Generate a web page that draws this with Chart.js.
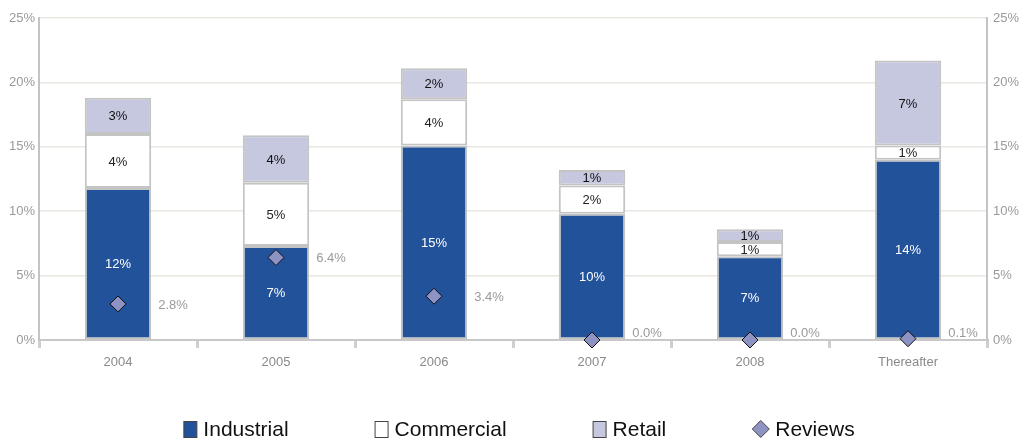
<!DOCTYPE html>
<html>
<head>
<meta charset="utf-8">
<script src="https://cdn.jsdelivr.net/npm/chart.js@4/dist/chart.umd.min.js"></script>
<style>
  html, body { margin: 0; padding: 0; background: #fff; }
  #wrap { width: 1026px; height: 440px; position: relative; }
</style>
</head>
<body>
<div id="wrap"><canvas id="c" width="1026" height="440"></canvas></div>
<script>
const categories = ['2004', '2005', '2006', '2007', '2008', 'Thereafter'];
const industrial = [11.8, 7.3, 15.1, 9.8, 6.5, 14.0];
const commercial = [4.2, 4.9, 3.6, 2.2, 1.1, 1.1];
const retail = [2.8, 3.7, 2.4, 1.2, 1.0, 6.6];
const reviews = [2.8, 6.4, 3.4, 0.0, 0.0, 0.1];
const yTicks = [0, 5, 10, 15, 20, 25];

const FONT = "'Liberation Sans', Arial, sans-serif";
const COL_IND = '#22529a';
const COL_COM = '#ffffff';
const COL_RET = '#c5c8df';
const COL_REV = '#8e93c4';

const segLabelPlugin = {
  id: 'segLabels',
  afterDatasetsDraw(chart) {
    const ctx = chart.ctx;
    ctx.save();
    ctx.font = '13px ' + FONT;
    ctx.textAlign = 'center';
    ctx.textBaseline = 'middle';
    const colors = ['#ffffff', '#222222', '#111111'];
    [0, 1, 2].forEach(di => {
      const meta = chart.getDatasetMeta(di);
      meta.data.forEach((bar, i) => {
        const v = chart.data.datasets[di].data[i];
        const yc = (bar.y + bar.base) / 2;
        ctx.fillStyle = colors[di];
        ctx.fillText(Math.round(v) + '%', bar.x, yc + 1);
      });
    });
    const barMeta = chart.getDatasetMeta(0);
    const revMeta = chart.getDatasetMeta(3);
    ctx.textAlign = 'left';
    ctx.fillStyle = '#9a9a9a';
    revMeta.data.forEach((pt, i) => {
      const bar = barMeta.data[i];
      const x = bar.x + bar.width / 2 + 7;
      const y = Math.min(pt.y, chart.chartArea.bottom - 8);
      ctx.fillText(reviews[i].toFixed(1) + '%', x, y + 1);
    });
    ctx.restore();
  }
};

const legendPlugin = {
  id: 'customLegend',
  afterDraw(chart) {
    const ctx = chart.ctx;
    ctx.save();
    ctx.font = '21px ' + FONT;
    ctx.textBaseline = 'middle';
    const items = chart.data.datasets.map(ds => ({
      text: ds.label,
      fill: ds.type === 'line' ? ds.pointBackgroundColor : ds.backgroundColor,
      diamond: ds.type === 'line'
    }));
    const boxW = 14, gapText = 6, gapItem = 86;
    const widths = items.map(it => (it.diamond ? 17 : boxW) + gapText + ctx.measureText(it.text).width);
    const total = widths.reduce((a, b) => a + b, 0) + gapItem * (items.length - 1);
    let x = 519 - total / 2;
    const cy = 429;
    items.forEach((it, i) => {
      ctx.lineWidth = 1;
      ctx.strokeStyle = '#444';
      ctx.fillStyle = it.fill;
      let bw;
      if (it.diamond) {
        bw = 17;
        const cx = x + 8.5;
        ctx.beginPath();
        ctx.moveTo(cx, cy - 8.5);
        ctx.lineTo(cx + 8.5, cy);
        ctx.lineTo(cx, cy + 8.5);
        ctx.lineTo(cx - 8.5, cy);
        ctx.closePath();
        ctx.fill();
        ctx.stroke();
      } else {
        bw = boxW;
        ctx.fillRect(x + 0.5, cy - 7.5, boxW - 1, 16);
        ctx.strokeRect(x + 0.5, cy - 7.5, boxW - 1, 16);
      }
      ctx.fillStyle = '#111';
      ctx.textAlign = 'left';
      ctx.fillText(it.text, x + bw + gapText, cy + 1);
      x += widths[i] + gapItem;
    });
    ctx.restore();
  }
};

const barCommon = {
  type: 'bar',
  borderColor: '#c4c4c4',
  borderWidth: 2,
  borderSkipped: false,
  barPercentage: 0.42,
  categoryPercentage: 1.0,
  order: 1
};

new Chart(document.getElementById('c'), {
  data: {
    labels: categories,
    datasets: [
      Object.assign({}, barCommon, { label: 'Industrial', data: industrial, backgroundColor: COL_IND }),
      Object.assign({}, barCommon, { label: 'Commercial', data: commercial, backgroundColor: COL_COM }),
      Object.assign({}, barCommon, { label: 'Retail', data: retail, backgroundColor: COL_RET }),
      {
        type: 'line', label: 'Reviews', data: reviews, showLine: false, stack: 'reviews',
        pointStyle: 'rectRot', pointRadius: 8, pointHoverRadius: 8,
        pointBackgroundColor: COL_REV, pointBorderColor: '#111', pointBorderWidth: 1,
        backgroundColor: COL_REV, borderColor: '#111', clip: false, order: 0
      }
    ]
  },
  options: {
    responsive: false,
    animation: false,
    devicePixelRatio: 1,
    layout: { padding: { top: 18, bottom: 60, left: 0, right: 0 } },
    plugins: { legend: { display: false }, tooltip: { enabled: false } },
    scales: {
      x: {
        stacked: true,
        afterFit(s) { s.height = 40; },
        grid: { display: true, drawOnChartArea: false, drawTicks: true, tickLength: 8, color: '#cfcfcf', lineWidth: 3, offset: true },
        border: { display: true, color: '#c8c8c8', width: 2 },
        ticks: { color: '#8a8a8a', font: { family: FONT, size: 13 }, padding: 7, maxRotation: 0 }
      },
      y: {
        stacked: true, min: 0, max: 25,
        afterFit(s) { s.width = 39; },
        afterBuildTicks(s) { s.ticks = yTicks.map(v => ({ value: v })); },
        grid: { color: '#e9e7e2', lineWidth: 1.5, drawTicks: false },
        border: { display: true, color: '#c4c4c4', width: 2 },
        ticks: { color: '#9a9a9a', font: { family: FONT, size: 13 }, padding: 4, callback: v => v + '%' }
      },
      y2: {
        position: 'right', min: 0, max: 25,
        afterFit(s) { s.width = 39; },
        afterBuildTicks(s) { s.ticks = yTicks.map(v => ({ value: v })); },
        grid: { drawOnChartArea: false, drawTicks: false },
        border: { display: true, color: '#c4c4c4', width: 2 },
        ticks: { color: '#9a9a9a', font: { family: FONT, size: 13 }, padding: 6, callback: v => v + '%' }
      }
    }
  },
  plugins: [segLabelPlugin, legendPlugin]
});
</script>
</body>
</html>
